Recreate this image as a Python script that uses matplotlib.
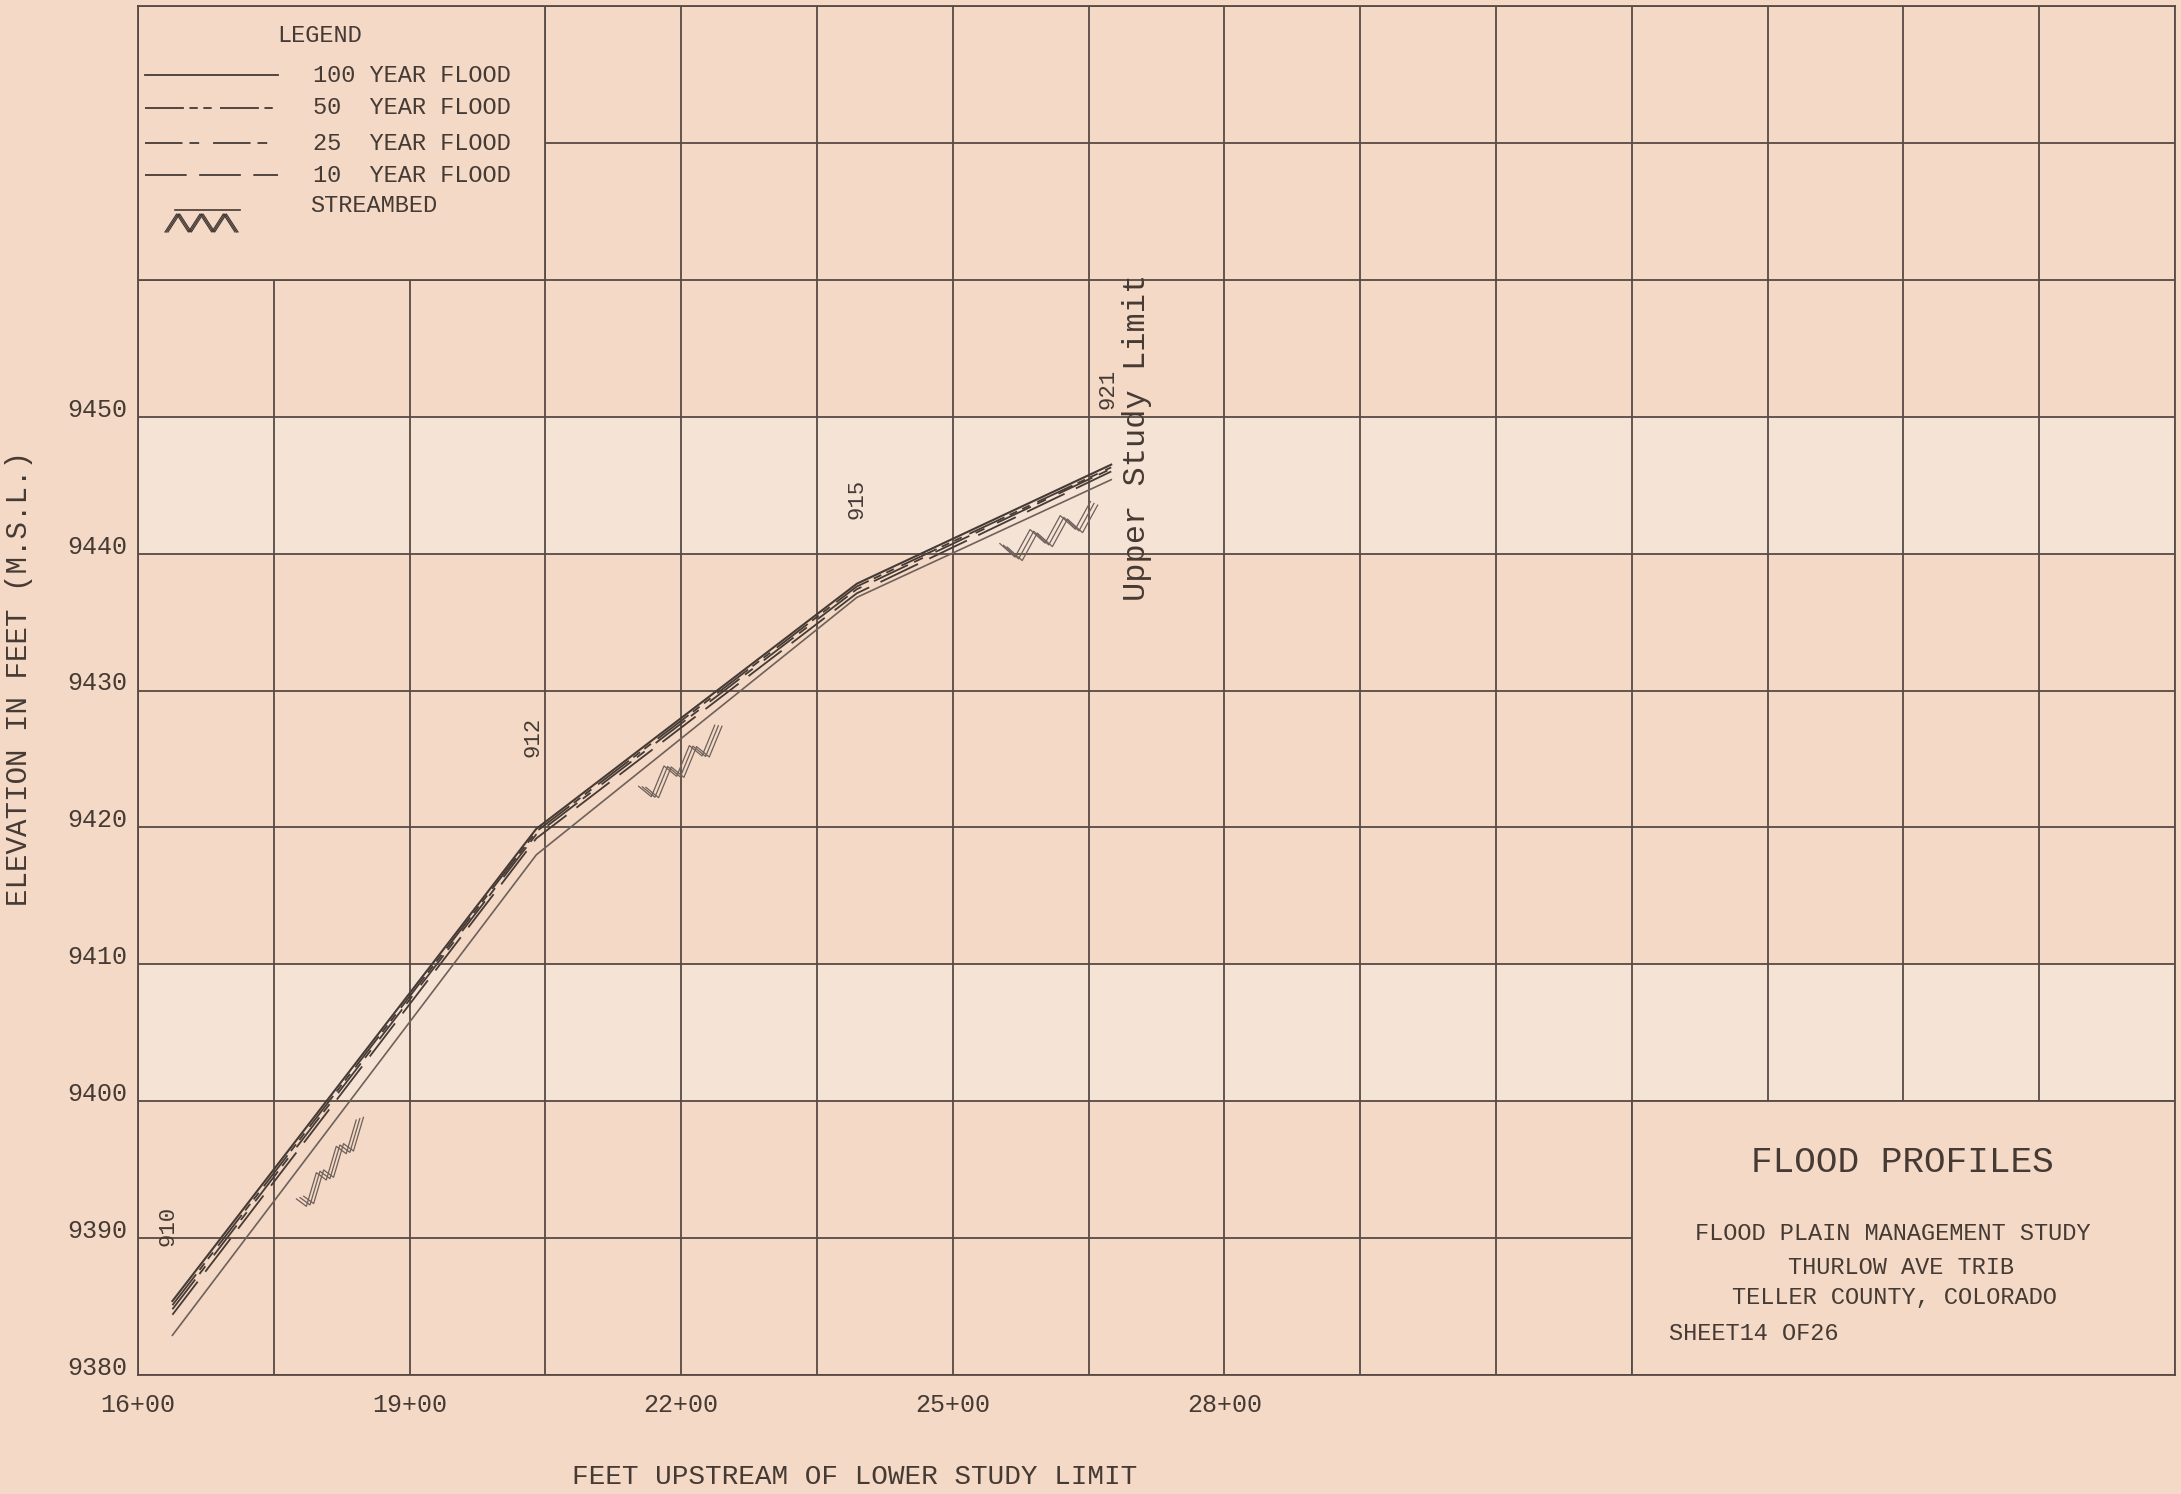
import matplotlib
matplotlib.use("Agg")
import matplotlib.pyplot as plt
import numpy as np
from matplotlib.patches import Rectangle

plt.rcParams['lines.scale_dashes'] = False
FONT = ['Liberation Mono', 'DejaVu Sans Mono']

# ---------------- data ----------------
sections = ['910', '912', '915', '921']
stations = [1638, 2040, 2394, 2675]
wsel_100 = [9385.4, 9419.9, 9437.8, 9446.5]
wsel_50 = [9385.1, 9419.7, 9437.6, 9446.3]
wsel_25 = [9384.8, 9419.5, 9437.4, 9446.2]
wsel_10 = [9384.4, 9419.2, 9437.1, 9446.0]
streambed = [9382.9, 9418.0, 9436.8, 9445.4]

section_label_x = [1633, 2036, 2394, 2671]
section_label_y = [9390.9, 9426.6, 9444.0, 9452.0]

bed_symbol_x = [1808, 2195, 2602]
bed_symbol_w = [66, 84, 100]
bed_symbol_gap = [2.0, 1.0, 0.9]

x_ticks = [1600, 1900, 2200, 2500, 2800]
x_tick_labels = ['16+00', '19+00', '22+00', '25+00', '28+00']
y_ticks = [9380, 9390, 9400, 9410, 9420, 9430, 9440, 9450]
y_tick_labels = ['9380', '9390', '9400', '9410', '9420', '9430', '9440', '9450']

legend_labels = ['100 YEAR FLOOD', '50  YEAR FLOOD', '25  YEAR FLOOD', '10  YEAR FLOOD']
title_lines = ['FLOOD PLAIN MANAGEMENT STUDY', 'THURLOW AVE TRIB', 'TELLER COUNTY, COLORADO']

# ---------------- styles ----------------
BG = '#f3d9c6'
BAND = '#f5e3d6'
INK = '#463a34'
GRID = '#574a44'
BED = '#6e605a'
styles = {
    '100': dict(ls='-'),
    '50': dict(dashes=(28, 4, 6, 4, 6, 6)),
    '25': dict(dashes=(27, 5, 7, 10)),
    '10': dict(dashes=(30, 9)),
}

fig = plt.figure(figsize=(21.81, 14.94), dpi=100)
fig.patch.set_facecolor(BG)
L, R, T, B = 138, 2175, 6, 1375
W, H = 2181, 1494
ax = fig.add_axes([L / W, 1 - B / H, (R - L) / W, (B - T) / H])
ax.set_facecolor(BG)
ax.set_xlim(1600, 3850)
ax.set_ylim(9380, 9480)

# pale scan bands
ax.axhspan(9440, 9450, color=BAND, zorder=0.1, lw=0)
ax.axhspan(9400, 9410, color=BAND, zorder=0.1, lw=0)

# grid (major + minor so that every 150 ft / 10 ft line is drawn)
ax.set_xticks(np.arange(1600, 3851, 150), minor=True)
ax.set_yticks(np.arange(9380, 9481, 10), minor=True)
ax.set_xticks(x_ticks, x_tick_labels, family=FONT, fontsize=18, color=INK)
ax.set_yticks(y_ticks, y_tick_labels, family=FONT, fontsize=18, color=INK, va='baseline')
ax.grid(which='both', color=GRID, lw=1.3)
ax.set_axisbelow(True)
ax.tick_params(which='both', length=0)
ax.tick_params(axis='x', pad=13)
ax.tick_params(axis='y', pad=8)
for s in ax.spines.values():
    s.set_color(GRID)
    s.set_linewidth(1.3)

ax.set_xlabel('FEET UPSTREAM OF LOWER STUDY LIMIT', family=FONT, fontsize=20, color=INK)
ax.xaxis.set_label_coords((855 - L) / (R - L), -(1464 - B) / (B - T))
ax.set_ylabel('ELEVATION IN FEET (M.S.L.)', family=FONT, fontsize=21, color=INK)
ax.yaxis.set_label_coords((33 - L) / (R - L), (B - 678) / (B - T))

# blank boxes (legend and title block)
ax.add_patch(Rectangle((1600, 9460), 450, 20, fc=BG, ec=GRID, lw=1.3, zorder=1))
ax.add_patch(Rectangle((3250, 9380), 600, 20, fc=BG, ec=GRID, lw=1.3, zorder=1))

# profiles
ax.plot(stations, streambed, color=BED, lw=1.2, zorder=2)
ax.plot(stations, wsel_10, color=INK, lw=1.3, zorder=3, **styles['10'])
ax.plot(stations, wsel_25, color=INK, lw=1.3, zorder=3, **styles['25'])
ax.plot(stations, wsel_50, color=INK, lw=1.3, zorder=3, **styles['50'])
ax.plot(stations, wsel_100, color=INK, lw=1.5, zorder=4, **styles['100'])


def bed_symbol(xc, width, gap=0.9, amp=1.5, n=6):
    k = np.arange(n + 1)
    for j, dx in enumerate([0.0, 4.0, 8.0]):
        xs = np.linspace(xc - width / 2, xc + width / 2, n + 1) + dx
        base = np.interp(xs, stations, streambed) - gap
        ys = base - np.where(k % 2 == 1, amp, 0.0) - 0.25 * j
        ax.plot(xs, ys, color=BED, lw=0.9, zorder=2)


for xc, w, g in zip(bed_symbol_x, bed_symbol_w, bed_symbol_gap):
    bed_symbol(xc, w, gap=g)

# cross-section labels
for name, sx, sy in zip(sections, section_label_x, section_label_y):
    ax.text(sx, sy, name, rotation=90, ha='center', va='center', family=FONT,
            fontsize=16, color=INK, zorder=5)
ax.text(2704, 9448.5, 'Upper Study Limit', rotation=90, ha='center', va='center',
        family=FONT, fontsize=23, color=INK, zorder=5)


# legend (drawn inside the blank box, axes fraction coords)
def fx(px):
    return (px - L) / (R - L)


def fy(py):
    return (B - py) / (B - T)


ax.text(fx(277), fy(35), 'LEGEND', transform=ax.transAxes, family=FONT,
        fontsize=17, color=INK, va='center', ha='left')
leg_y = [75, 108, 143, 175]
for lab, key, py in zip(legend_labels, ['100', '50', '25', '10'], leg_y):
    ax.plot([fx(145), fx(278)], [fy(py), fy(py)], transform=ax.transAxes,
            color=INK, lw=1.3, **styles[key])
    ax.text(fx(313), fy(py), lab, transform=ax.transAxes, family=FONT,
            fontsize=17, color=INK, va='center', ha='left')
ax.text(fx(310), fy(205), 'STREAMBED', transform=ax.transAxes, family=FONT,
        fontsize=17, color=INK, va='center', ha='left')
ax.plot([fx(175), fx(240)], [fy(210), fy(210)], transform=ax.transAxes, color=INK, lw=1.2)
zx = np.linspace(fx(165), fx(235), 7)
zy = np.where(np.arange(7) % 2 == 0, fy(232), fy(214))
for dx in [0, 1.5, 3.0]:
    ax.plot(zx + dx / (R - L), zy, transform=ax.transAxes, color=INK, lw=0.9)

# title block
ax.text(fx(1902), fy(1162), 'FLOOD PROFILES', transform=ax.transAxes, family=FONT,
        fontsize=26, color=INK, ha='center', va='center')
for txt, cx, py in zip(title_lines, [1893, 1901, 1894], [1233, 1267, 1298]):
    ax.text(fx(cx), fy(py), txt, transform=ax.transAxes, family=FONT,
            fontsize=17, color=INK, ha='center', va='center')
ax.text(fx(1669), fy(1334), 'SHEET14 OF26', transform=ax.transAxes, family=FONT,
        fontsize=17, color=INK, ha='left', va='center')

fig.savefig('out.png', dpi=100, facecolor=BG)
